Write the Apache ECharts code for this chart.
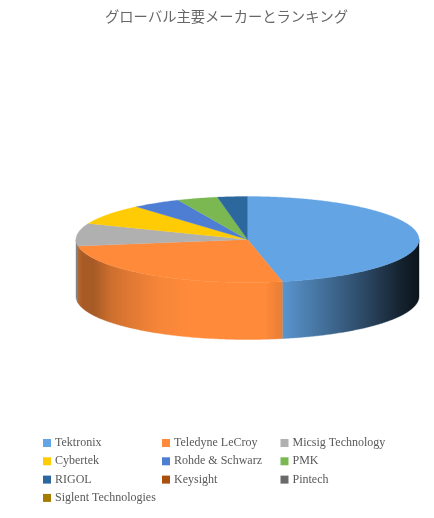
<!DOCTYPE html>
<html><head><meta charset="utf-8">
<style>html,body{margin:0;padding:0;background:#fff}#c{width:434px;height:518px}</style>
<script src="https://cdn.jsdelivr.net/npm/echarts@6/dist/echarts.min.js"></script>
</head><body><div id="c"></div>
<script>
const titleText = 'グローバル主要メーカーとランキング';
const makers = ['Tektronix','Teledyne LeCroy','Micsig Technology','Cybertek','Rohde & Schwarz','PMK','RIGOL','Keysight','Pintech','Siglent Technologies'];
const shares = [46.7,25.8,8.5,7.7,4.6,3.8,2.8,0,0,0];
const colors = ['#63a4e4','#ff8a3a','#b0b0b0','#ffcb05','#4e7ed3','#7cb852','#2c689e','#a9500f','#6a6a6a','#a57c00'];
const legendColumns = [[0,3,6,9],[1,4,7],[2,5,8]];
const legendLefts = [43,162,280.5];

const CX=247.5, CY=239.5, RX=171.5, RY=43, DEPTH=57;
const total = shares.reduce((a,b)=>a+b,0);
const shade = [[0,.75],[.02,.66],[.05,.65],[.1,.8],[.157,.88],[.245,.97],[.33,1],[.55,1],[.6,.91],[.72,.68],[.85,.42],[.95,.2],[1,.12]];
function mul(hex,k){
  const n=parseInt(hex.slice(1),16);
  const f=v=>Math.round(Math.min(255,v*k));
  return `rgb(${f(n>>16&255)},${f(n>>8&255)},${f(n&255)})`;
}
function pt(t,dy){return [CX+RX*Math.sin(t),CY-RY*Math.cos(t)+(dy||0)];}
function arc(a,b,dy){
  const n=Math.max(2,Math.ceil(Math.abs(b-a)/0.01)),p=[];
  for(let i=0;i<=n;i++)p.push(pt(a+(b-a)*i/n,dy));
  return p;
}
function makeRender(idx){
  return function(params,api){
    const v=api.value(0);
    if(!v)return null;
    let before=0;
    for(let i=0;i<idx;i++)before+=shares[i];
    const a=before/total*2*Math.PI,b=(before+v)/total*2*Math.PI;
    const kids=[];
    const s=Math.max(a,Math.PI/2),e=Math.min(b,Math.PI*1.5);
    if(e>s){
      const top=arc(s,e,0),bot=arc(e,s,DEPTH);
      const fill=new echarts.graphic.LinearGradient(CX-RX,0,CX+RX,0,
          shade.map(q=>({offset:q[0],color:mul(colors[idx],q[1])})),true);
      kids.push({type:'polygon',shape:{points:top.concat(bot)},
        style:{fill:fill,stroke:fill,lineWidth:0.4}});
    }
    kids.push({type:'polygon',shape:{points:[[CX,CY]].concat(arc(a,b,0))},
      style:{fill:colors[idx],stroke:colors[idx],lineWidth:0.3}});
    return {type:'group',children:kids};
  };
}
const chart=echarts.init(document.getElementById('c'),null,{renderer:'canvas'});
chart.setOption({
  animation:false,
  backgroundColor:'#fff',
  title:{text:titleText,left:105,top:5,padding:[4,0,0,0],
    textStyle:{fontFamily:'"Noto Sans CJK JP"',fontSize:14.3,fontWeight:'normal',color:'#666666'}},
  legend:legendColumns.map((col,i)=>({
    orient:'vertical',left:legendLefts[i],top:437,itemGap:6.3,itemWidth:8,itemHeight:8,icon:'rect',padding:0,
    selectedMode:false,
    data:col.map(k=>makers[k]),
    textStyle:{fontFamily:'"Liberation Serif"',fontSize:12,color:'#595959',padding:[0,0,0,-1]}
  })),
  series:makers.map((m,i)=>({
    type:'custom',name:m,coordinateSystem:'none',silent:true,
    itemStyle:{color:colors[i]},
    renderItem:makeRender(i),
    data:[[shares[i]]]
  }))
});
</script></body></html>
